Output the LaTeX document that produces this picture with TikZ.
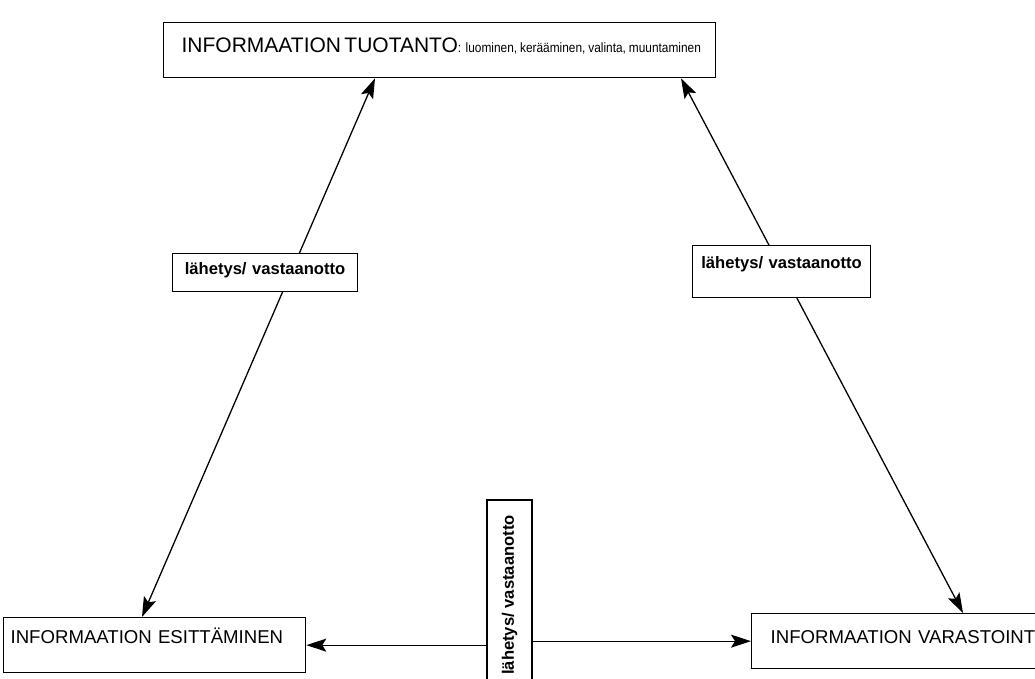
\documentclass[tikz,border=0pt]{standalone}
\usepackage{fontspec}
\setmainfont{Liberation Sans}
\usetikzlibrary{arrows.meta,calc}
\begin{document}
\begin{tikzpicture}[x=1pt,y=-1pt,
  box/.style={draw, line width=1.3pt, inner ysep=0pt, anchor=north west, align=left},
  lab/.style={draw, line width=1.1pt, fill=white, inner ysep=0pt, inner xsep=0pt, anchor=north west, align=center, font=\bfseries\fontsize{16.6}{18}\selectfont},
  twoway/.style={line width=1.3pt, {Stealth[length=20pt,width=13pt,inset=4pt]}-{Stealth[length=20pt,width=13pt,inset=4pt]}},
  oneway/.style={line width=1.3pt, -{Stealth[length=20pt,width=13pt,inset=4pt]}},
]
\clip (0,0) rectangle (1035,679);
\fill[white] (0,0) rectangle (1035,679);
% main boxes
\node[box, inner xsep=18pt, text width=516pt, text height=30pt, text depth=25pt] (prod) at (163,22)
  {\mbox{{\fontsize{21}{24}\selectfont INFORMAATION TUOTANTO}\scalebox{0.88}[1]{\fontsize{13.5}{16}\selectfont: luominen, kerääminen, valinta, muuntaminen}}};
\node[box, font=\fontsize{18.6}{21}\selectfont, inner xsep=7pt, text width=288pt, text height=26pt, text depth=29pt] (pres) at (3,617)
  {\mbox{INFORMAATION ESITTÄMINEN}};
\node[box, font=\fontsize{18.6}{21}\selectfont, inner xsep=19pt, text width=290pt, text height=30pt, text depth=25pt] (stor) at (751,613)
  {\mbox{INFORMAATION VARASTOINTI}};
% arrow ends
\coordinate (pA) at ($(prod.south west)+(212,0)$);
\coordinate (pB) at ($(prod.south west)+(518,0)$);
\coordinate (eA) at ($(pres.north west)+(139,0)$);
\coordinate (sA) at ($(stor.north west)+(212,0)$);
% diagonal connectors
\draw[twoway] (eA) -- (pA);
\draw[twoway] (sA) -- (pB);
% labels on diagonals
\node[lab, text width=185pt, text height=21pt, text depth=17pt] (labL) at (172,253) {lähetys/ vastaanotto};
\node[lab, text width=178pt, text height=23pt, text depth=29pt] (labR) at (692,245) {lähetys/ vastaanotto};
% vertical label
\node[draw, line width=1.1pt, fill=white, rotate=90, minimum width=190pt, minimum height=45pt, inner sep=0pt,
      font=\bfseries\fontsize{16.6}{18}\selectfont] (labC) at (509.5,595) {lähetys/ vastaanotto};
% horizontal connectors
\draw[oneway] (pres.east -| labC.north) -- (pres.east);
\draw[oneway] (stor.west -| labC.south) -- (stor.west);
\end{tikzpicture}
\end{document}
